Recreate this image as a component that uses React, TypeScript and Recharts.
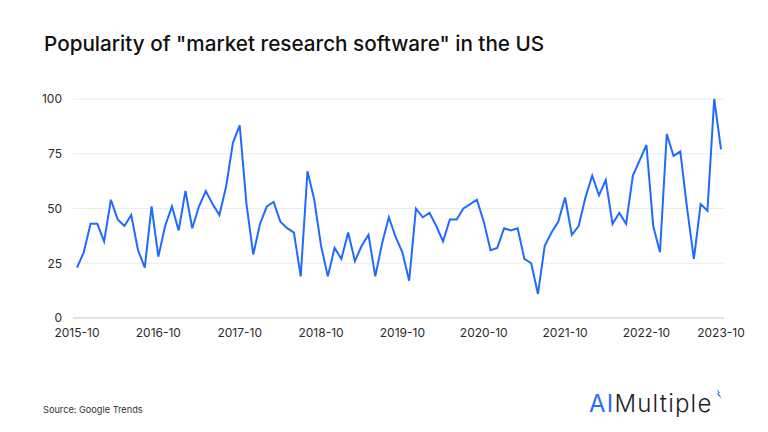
import { CartesianGrid, Line, LineChart, XAxis, YAxis } from "recharts";

// monthly Google Trends index, 2015-10 onwards
const popularity = [
  23, 30, 43, 43, 35, 54, 45, 42, 47, 31, 23, 51, 28, 42, 51, 40, 58, 41, 51, 58, 52, 47, 60, 80, 88,
  52, 29, 43, 51, 53, 44, 41, 39, 19, 67, 54, 33, 19, 32, 27, 39, 26, 33, 38, 19, 34, 46, 37, 30, 17,
  50, 46, 48, 42, 35, 45, 45, 50, 52, 54, 44, 31, 32, 41, 40, 41, 27, 25, 11, 33, 39, 44, 55,
  38, 42, 55, 65, 56, 63, 43, 48, 43, 65, 72, 79, 42, 30, 84, 74, 76, 50, 27, 52, 49, 100, 77,
];

const xTickIndex = [0, 12, 24, 36, 48, 60, 72, 84, 95];
const xTickLabels = ["2015-10", "2016-10", "2017-10", "2018-10", "2019-10", "2020-10", "2021-10", "2022-10", "2023-10"];
const yTicks = [0, 25, 50, 75, 100];

const data = popularity.map((v, i) => ({ i, value: v }));

const FONT = "Inter, 'Noto Sans', sans-serif";
const tick = { fontSize: 12, fill: "#2b2b2b", fontFamily: FONT };

export default function App() {
  return (
    <div style={{ position: "absolute", left: 0, top: 0, width: 768, height: 432, background: "#fff", fontFamily: FONT }}>
      <div style={{ position: "absolute", left: 44, top: 31, fontSize: 20.7, fontWeight: 500, color: "#111", whiteSpace: "nowrap" }}>
        Popularity of "market research software" in the US
      </div>
      <LineChart width={768} height={432} data={data} margin={{ top: 99, right: 44, bottom: 84, left: 0 }}>
        <CartesianGrid vertical={false} stroke="#ececec" />
        <XAxis
          dataKey="i"
          type="number"
          domain={[0, popularity.length - 1]}
          ticks={xTickIndex}
          tickFormatter={(v: number) => xTickLabels[xTickIndex.indexOf(v)] ?? ""}
          padding={{ left: 4, right: 3 }}
          tick={tick}
          tickLine={false}
          tickSize={0}
          tickMargin={10}
          axisLine={{ stroke: "#d0d0d0" }}
          height={30}
          interval={0}
        />
        <YAxis
          domain={[0, 100]}
          ticks={yTicks}
          tick={tick}
          tickLine={false}
          tickSize={0}
          tickMargin={11}
          axisLine={false}
          width={73}
        />
        <Line type="linear" dataKey="value" stroke="#1f6bff" strokeWidth={2} dot={false} isAnimationActive={false} />
      </LineChart>
      <div style={{ position: "absolute", left: 43, top: 404, fontSize: 9.2, color: "#333", whiteSpace: "nowrap" }}>Source: Google Trends</div>
      <div style={{ position: "absolute", left: 589, top: 389, fontSize: 24, fontWeight: 300, color: "#1d1d2b", letterSpacing: 1.2, whiteSpace: "nowrap" }}>
        <span style={{ color: "#2a6cff", fontWeight: 400 }}>AI</span>Multiple
      </div>
      <svg style={{ position: "absolute", left: 715, top: 389 }} width={9} height={11}>
        <path d="M2 0 L5 4 L3.5 4 L7 10 L1.5 4.5 L3.5 4.5 Z" fill="#2a6cff" />
      </svg>
    </div>
  );
}
